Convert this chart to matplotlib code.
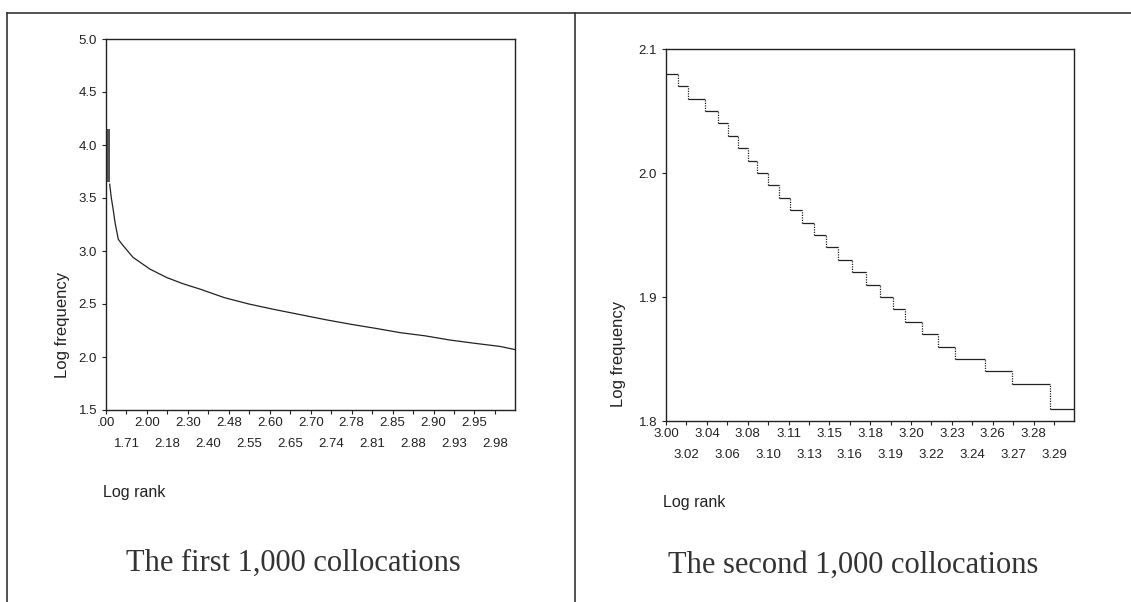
import numpy as np
import matplotlib
matplotlib.use("Agg")
import matplotlib.pyplot as plt

plt.rcParams['font.family'] = ['Liberation Sans', 'DejaVu Sans']

# --- data ---
# first 1,000 collocations: dense band at the top ranks, then the curve
band_ranks = [1, 10]
band_low, band_high = 3.65, 4.15
first_ranks = [10, 14, 19, 23, 31, 43, 67, 108, 149, 190, 231, 290, 350,
               410, 475, 540, 597, 660, 719, 780, 841, 900, 963, 1000]
first_logf = [3.63, 3.50, 3.38, 3.27, 3.11, 3.05, 2.94, 2.83, 2.75, 2.69,
              2.64, 2.56, 2.50, 2.45, 2.40, 2.35, 2.31, 2.27, 2.23, 2.20, 2.16,
              2.13, 2.10, 2.07]
first_tick_ranks = list(range(1, 1000, 50))
first_tick_labels = ['.00', '1.71', '2.00', '2.18', '2.30', '2.40', '2.48', '2.55',
                     '2.60', '2.65', '2.70', '2.74', '2.78', '2.81', '2.85', '2.88',
                     '2.90', '2.93', '2.95', '2.98']

# second 1,000 collocations: step levels and the rank where each level starts
second_starts = [1001, 1030, 1055, 1097, 1128, 1153, 1177, 1202, 1224, 1251, 1278,
                 1305, 1334, 1364, 1393, 1423, 1457, 1491, 1526, 1557, 1587, 1628,
                 1668, 1709, 1783, 1849, 1942]
second_levels = [2.08, 2.07, 2.06, 2.05, 2.04, 2.03, 2.02, 2.01, 2.00, 1.99, 1.98,
                 1.97, 1.96, 1.95, 1.94, 1.93, 1.92, 1.91, 1.90, 1.89, 1.88, 1.87,
                 1.86, 1.85, 1.84, 1.83, 1.81]
second_tick_ranks = list(range(1001, 2000, 50))
second_tick_labels = ['3.00', '3.02', '3.04', '3.06', '3.08', '3.10', '3.11', '3.13',
                      '3.15', '3.16', '3.18', '3.19', '3.20', '3.22', '3.23', '3.24',
                      '3.26', '3.27', '3.28', '3.29']

W, H = 1131, 602
fig = plt.figure(figsize=(W / 100, H / 100), dpi=100)


def px_axes(x0, y0, x1, y1):
    return fig.add_axes([x0 / W, 1 - y1 / H, (x1 - x0) / W, (y1 - y0) / H])


def style(ax, ticks, labels):
    # SPSS-like two rows of category labels: even ones on top, odd ones below
    ax.set_xticks(ticks[0::2])
    ax.set_xticklabels(labels[0::2])
    ax.set_xticks(ticks[1::2], minor=True)
    ax.set_xticklabels(labels[1::2], minor=True)
    ax.tick_params(axis='both', which='both', direction='out', length=3, width=0.8,
                   labelsize=9.5, colors='#222')
    ax.tick_params(axis='x', which='major', pad=2)
    ax.tick_params(axis='x', which='minor', pad=17)
    for s in ax.spines.values():
        s.set_linewidth(1.0)
        s.set_color('#222')


# outer frame of the scanned figure
fig.add_artist(plt.Line2D([7 / W, 1], [1 - 13 / H, 1 - 13 / H], color='#333', lw=1.2))
fig.add_artist(plt.Line2D([7 / W, 7 / W], [0, 1 - 13 / H], color='#333', lw=1.2))
fig.add_artist(plt.Line2D([575 / W, 575 / W], [0, 1 - 13 / H], color='#333', lw=1.2))

# left panel
ax1 = px_axes(106, 39, 515, 410)
ax1.fill_between(band_ranks, band_low, band_high, color='#555', lw=0)
ax1.plot(first_ranks, first_logf, color='#222', lw=0.9)
ax1.set_xlim(1, 1000)
ax1.set_ylim(1.5, 5.0)
ax1.set_yticks(np.arange(1.5, 5.01, 0.5))
ax1.set_yticklabels(['1.5', '2.0', '2.5', '3.0', '3.5', '4.0', '4.5', '5.0'])
style(ax1, first_tick_ranks, first_tick_labels)

# right panel
ax2 = px_axes(666, 49, 1074, 421)
ends = second_starts[1:] + [2000]
ax2.hlines(second_levels, second_starts, ends, color='#222', lw=0.9)
ax2.vlines(second_starts[1:], second_levels[1:], second_levels[:-1],
           color='#222', lw=0.9, linestyles=(0, (1, 1)))
ax2.set_xlim(1001, 2000)
ax2.set_ylim(1.8, 2.1)
ax2.set_yticks([1.8, 1.9, 2.0, 2.1])
ax2.set_yticklabels(['1.8', '1.9', '2.0', '2.1'])
style(ax2, second_tick_ranks, second_tick_labels)

# axis titles (SPSS style, placed low / left)
fig.text(62 / W, 1 - 378 / H, 'Log frequency', rotation=90, fontsize=12,
         ha='center', va='bottom', color='#222')
fig.text(618 / W, 1 - 407 / H, 'Log frequency', rotation=90, fontsize=12,
         ha='center', va='bottom', color='#222')
fig.text(103 / W, 1 - 492 / H, 'Log rank', fontsize=11.5, ha='left', va='center',
         color='#222')
fig.text(663 / W, 1 - 502 / H, 'Log rank', fontsize=11.5, ha='left', va='center',
         color='#222')

# panel captions
fig.text(293 / W, 1 - 563 / H, 'The first 1,000 collocations', fontsize=22,
         family='Liberation Serif', ha='center', va='center', color='#333')
fig.text(853 / W, 1 - 565 / H, 'The second 1,000 collocations', fontsize=22,
         family='Liberation Serif', ha='center', va='center', color='#333')

fig.savefig('out.png', dpi=100)
